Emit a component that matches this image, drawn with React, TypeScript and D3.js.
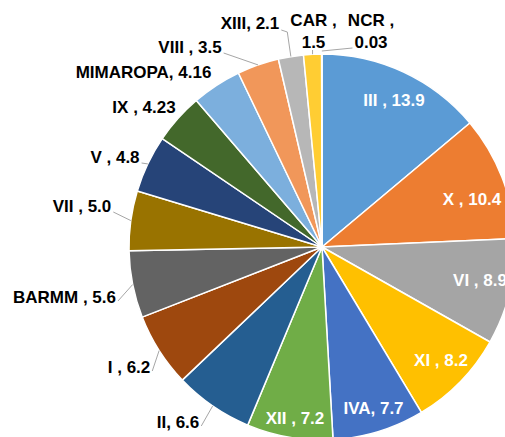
import React, { useEffect, useRef } from "react";
import * as d3 from "d3";

const regions = ["III", "X", "VI", "XI", "IVA", "XII", "II", "I", "BARMM", "VII", "V", "IX", "MIMAROPA", "VIII", "XIII", "CAR", "NCR"];
const values = [13.9, 10.4, 8.9, 8.2, 7.7, 7.2, 6.6, 6.2, 5.6, 5.0, 4.8, 4.23, 4.16, 3.5, 2.1, 1.5, 0.03];
const valueLabels = ["13.9", "10.4", "8.9", "8.2", "7.7", "7.2", "6.6", "6.2", "5.6", "5.0", "4.8", "4.23", "4.16", "3.5", "2.1", "1.5", "0.03"];
const separators = [" , ", " , ", " , ", " , ", ", ", " , ", ", ", " , ", " , ", " , ", " , ", " , ", ", ", " , ", ", ", " ,", " ,"];
const colors = ["#5B9BD5", "#ED7D31", "#A5A5A5", "#FFC000", "#4472C4", "#70AD47", "#255E91", "#9E480E", "#636363", "#997300", "#264478", "#43682B", "#7CAFDD", "#F1975A", "#B7B7B7", "#FFCD33", "#698ED0"];

// layout (label centres relative to pie centre)
const W = 505, H = 437;
const CX = 322, CY = 247, R = 193;
const labelInside = [true, true, true, true, true, true, false, false, false, false, false, false, false, false, false, false, false];
const twoLine = [false, false, false, false, false, false, false, false, false, false, false, false, false, false, false, true, true];
const labelOffsets: [number, number][] = [
  [72, -147], [150, -48], [158, 33], [119, 113], [51.5, 161], [-27, 171],
  [-144, 175], [-193, 120], [-257.5, 50], [-240, -41], [-207, -90], [-178, -140],
  [-178.5, -175], [-132, -200], [-72, -224], [-8.5, -216], [49, -216],
];
const showLeader = [false, false, false, false, false, false, true, true, true, true, true, false, false, true, true, true, true];

export default function App() {
  const ref = useRef<SVGSVGElement>(null);
  useEffect(() => {
    const svg = d3.select(ref.current);
    svg.selectAll("*").remove();
    const data = regions.map((r, i) => ({ r, v: values[i], i }));
    const pie = d3.pie<any>().value((d) => d.v).sort(null);
    const arcs = pie(data);
    const arc = d3.arc<any>().innerRadius(0).outerRadius(R);
    const edge = d3.arc<any>().innerRadius(R).outerRadius(R);
    const g = svg.append("g").attr("transform", `translate(${CX},${CY})`);
    g.selectAll("path.slice")
      .data(arcs)
      .join("path")
      .attr("class", "slice")
      .attr("d", arc as any)
      .attr("fill", (d: any) => colors[d.data.i])
      .attr("stroke", "#fff")
      .attr("stroke-width", 1.5)
      .attr("stroke-linejoin", "round");

    const font = "'Liberation Sans', Arial, sans-serif";
    const lg = g.append("g");
    const leaders = g.append("g");
    arcs.forEach((d: any) => {
      const i = d.data.i;
      const [ox, oy] = labelOffsets[i];
      const inside = labelInside[i];
      const t = lg.append("text")
        .attr("text-anchor", "middle")
        .attr("font-family", font)
        .attr("font-weight", "bold")
        .attr("font-size", 17)
        .attr("fill", inside ? "#fff" : "#000");
      let lines: string[];
      if (twoLine[i]) lines = [regions[i] + separators[i], valueLabels[i]];
      else lines = [regions[i] + separators[i] + valueLabels[i]];
      const lh = 22;
      lines.forEach((ln, k) => {
        const y = oy + (k - (lines.length - 1) / 2) * lh + 6;
        t.append("tspan").attr("x", ox).attr("y", y).text(ln);
      });
      if (!inside && showLeader[i]) {
        const bb = (t.node() as SVGTextElement).getBBox();
        const [ex, ey] = edge.centroid(d);
        let pts: [number, number][];
        if (twoLine[i]) {
          const last = t.selectAll("tspan").nodes()[1] as SVGTSpanElement;
          const lb = last.getBBox();
          if (ex < lb.x) {
            pts = [[lb.x - 2, lb.y + lb.height - 4], [ex, ey - 3]];
          } else {
            pts = [[ex, lb.y + lb.height - 2], [ex, ey]];
          }
        } else if (ey < bb.y + 4) {
          // label below-left... not used
          pts = [[bb.x + bb.width + 2, bb.y + bb.height - 6], [ex, ey]];
        } else {
          const sx = bb.x + bb.width + 2;
          const sy = oy + 6;
          if (ey < sy - 10) {
            pts = [[sx, sy], [sx + 5, sy], [ex, ey]];
          } else {
            pts = [[sx, sy], [ex, ey]];
          }
        }
        if (i === 14) {
          const sx = bb.x + bb.width + 2;
          const sy = oy + 7;
          pts = [[sx, sy], [sx + 6, sy + 2], [ex, ey]];
        }
        leaders.append("path")
          .attr("d", d3.line()(pts))
          .attr("fill", "none")
          .attr("stroke", "#A6A6A6")
          .attr("stroke-width", 1);
      }
    });
  }, []);
  return (
    <svg ref={ref} width={W} height={H} style={{ position: "absolute", left: 0, top: 0, background: "#fff" }} />
  );
}
